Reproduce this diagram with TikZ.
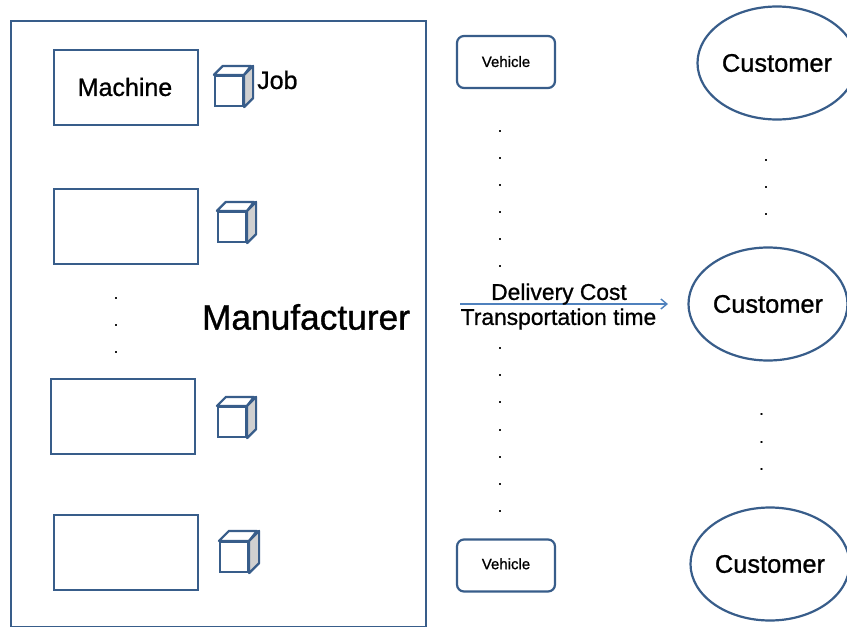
\documentclass[tikz,border=0pt]{standalone}
\usepackage{fontspec}
\setmainfont[FakeBold=0.9]{Liberation Sans}
\usetikzlibrary{shapes.geometric, arrows.meta, positioning, calc}
\definecolor{border}{RGB}{56,93,138}
\definecolor{arrowblue}{RGB}{79,129,189}
\definecolor{cubeside}{RGB}{208,208,208}
\tikzset{
    frame/.style={rectangle, draw=border, line width=2.2pt, fill=white, inner sep=0pt},
    machine/.style={rectangle, draw=border, line width=2pt, fill=white, minimum width=144pt, minimum height=75pt, inner sep=0pt, font=\fontsize{25}{25}\selectfont},
    vehicle/.style={rectangle, rounded corners=7pt, draw=border, line width=2.2pt, fill=white, minimum width=98pt, minimum height=52pt, inner sep=0pt, font=\fontsize{15}{15}\selectfont},
    customer/.style={ellipse, draw=border, line width=2.2pt, fill=white, minimum width=159pt, minimum height=113pt, inner sep=0pt, font=\fontsize{25.4}{25.4}\selectfont},
    job/.style={rectangle, draw=border, line width=2.2pt, fill=white, minimum width=28pt, minimum height=30pt, inner sep=0pt},
    label/.style={inner sep=0pt, font=\fontsize{25}{25}\selectfont},
    link/.style={font=\fontsize{22.8}{22.8}\selectfont, inner sep=0pt},
    dot/.style={inner sep=0pt, font=\fontsize{15}{15}\selectfont},
    arrow/.style={line width=1.4pt, -{Straight Barb[length=6pt,width=10pt]}, color=arrowblue},
    cubetop/.style={draw=border, line width=2.2pt, line join=round, fill=white},
    cubeface/.style={draw=border, line width=2.2pt, line join=round, fill=cubeside}
}
\begin{document}
\begin{tikzpicture}[x=1pt, y=-1pt]
    \useasboundingbox (0,0) rectangle (847,627);
    % Manufacturer
    \node (plant) [frame, minimum width=415pt, minimum height=606pt] at (218.5,324) {};
    \node (maker) [inner sep=0pt, font=\fontsize{35.3}{35.3}\selectfont] at (306,317) {Manufacturer};

    % Machines
    \node (m1) [machine] at (126,87) {\hspace*{-2pt}\raisebox{-1pt}{Machine}};
    \node (m2) [machine] at (126,226) {};
    \node (m3) [machine] at (123,416) {};
    \node (m4) [machine] at (126,552) {};

    % Jobs
    \foreach \name/\x/\y/\d in {j1/229/91/9, j2/232/227/9, j3/232/422/9, j4/234/557/10} {
        \node (\name) [job] at (\x,\y) {};
        \draw [cubetop] (\name.north west) -- ++(\d,-\d) -- ++(28,0) -- (\name.north east) -- cycle;
        \draw [cubeface] (\name.north east) -- ++(\d,-\d) -- ($(\name.south east)+(\d,-\d)$) -- (\name.south east) -- cycle;
    }
    \node (jobtext) [label, anchor=west] at (257,80) {Job};

    % Vehicles
    \node (v1) [vehicle] at (506,62) {\raisebox{1pt}{Vehicle}};
    \node (v2) [vehicle] at (506,565.5) {\raisebox{3.5pt}{Vehicle}};

    % Customers
    \node (c1) [customer] at (777,63) {\raisebox{-1pt}{Customer}};
    \node (c2) [customer] at (768,304) {\raisebox{-1pt}{Customer}};
    \node (c3) [customer] at (770,564) {\raisebox{-1pt}{Customer}};

    % Dots
    \foreach \y [count=\i] in {131,158,185,212,239,266,348,375,402,430,457,484,511}
        \node (vd\i) [dot] at (500,\y) {.};
    \foreach \y [count=\i] in {160,187,214}
        \node (ca\i) [dot] at (766,\y) {.};
    \foreach \y [count=\i] in {414,442,469}
        \node (cb\i) [dot] at (761.5,\y) {.};
    \foreach \y [count=\i] in {298,325,352}
        \node (md\i) [dot] at (116,\y) {.};

    % Delivery link
    \coordinate (from) at (460,304);
    \coordinate (to) at (668,304);
    \draw [arrow] (from) -- (to);
    \node (cost) [link] at (559,294) {Delivery Cost};
    \node (time) [link] at (558.5,319) {Transportation time};
\end{tikzpicture}
\end{document}
